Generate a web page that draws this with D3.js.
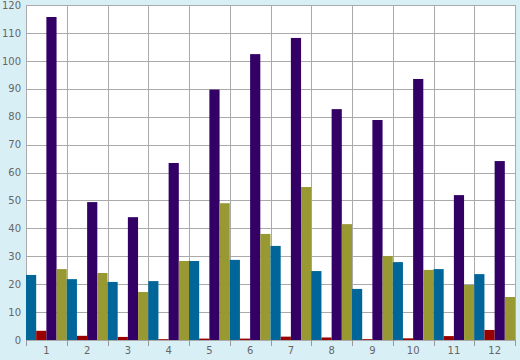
<!DOCTYPE html>
<html><head><meta charset="utf-8">
<script src="https://cdn.jsdelivr.net/npm/d3@7"></script>
<style>html,body{margin:0;padding:0;background:#d9eff6;}svg{display:block;}</style>
</head><body>
<svg id="c" width="520" height="360"></svg>
<script>
const categories = ["1","2","3","4","5","6","7","8","9","10","11","12"];
const seriesNames = ["A","B","C","D"];
const seriesA = [23.3, 21.8, 20.8, 21.1, 28.3, 28.7, 33.7, 24.7, 18.3, 27.9, 25.4, 23.6];
const seriesB = [3.3, 1.5, 1.1, 0.3, 0.5, 0.5, 1.2, 0.9, 0.3, 0.6, 1.4, 3.6];
const seriesC = [115.7, 49.4, 44.0, 63.4, 89.7, 102.4, 108.2, 82.7, 78.8, 93.5, 51.9, 64.1];
const seriesD = [25.4, 24.0, 17.2, 28.3, 49.0, 38.0, 54.8, 41.5, 30.1, 25.1, 19.7, 15.4];
const colors = ["#006699", "#990000", "#330066", "#999933"];
const yTicks = [0,10,20,30,40,50,60,70,80,90,100,110,120];

const svg = d3.select("#c");
const m = {l:26, t:5, r:5, b:20};
const W = 520, H = 360;
const x = d3.scaleBand().domain(categories).range([m.l, W - m.r]).padding(0);
const xs = d3.scaleBand().domain(seriesNames).range([0, x.bandwidth()]).padding(0);
const y = d3.scaleLinear().domain([0,120]).range([H - m.b, m.t]);

svg.append("rect").attr("x", m.l).attr("y", m.t).attr("width", W-m.r-m.l).attr("height", H-m.b-m.t).attr("fill","#fff");

// horizontal grid
svg.append("g").selectAll("line").data(yTicks).join("line")
  .attr("x1", m.l).attr("x2", W-m.r)
  .attr("y1", d=>Math.round(y(d))+0.5).attr("y2", d=>Math.round(y(d))+0.5)
  .attr("stroke","#aaaaaa").attr("stroke-width",1);
// vertical grid
const bounds = categories.map(c=>x(c)).concat([W-m.r]);
svg.append("g").selectAll("line").data(bounds).join("line")
  .attr("x1", d=>Math.round(d)+0.5).attr("x2", d=>Math.round(d)+0.5)
  .attr("y1", m.t).attr("y2", H-m.b)
  .attr("stroke","#aaaaaa").attr("stroke-width",1);

const data = [seriesA, seriesB, seriesC, seriesD];
const g = svg.append("g");
categories.forEach((c,i)=>{
  seriesNames.forEach((s,j)=>{
    const v = data[j][i];
    g.append("rect")
      .attr("x", x(c)+xs(s))
      .attr("width", xs.bandwidth())
      .attr("y", y(v))
      .attr("height", y(0)-y(v))
      .attr("fill", colors[j]);
  });
});

// x axis
const xAxis = d3.axisBottom(x).tickSize(0).tickPadding(7);
const gx = svg.append("g").attr("transform",`translate(0,${H-m.b})`).call(xAxis);
gx.select(".domain").remove();
gx.selectAll("text").attr("fill","#666").style("font-family","DejaVu Sans").style("font-size","10px");
gx.selectAll(".tk").data(bounds).join("line").attr("class","tk")
  .attr("x1", d=>Math.round(d)+0.5).attr("x2", d=>Math.round(d)+0.5)
  .attr("y1", 0).attr("y2", 6).attr("stroke","#999");

// y axis
const yAxis = d3.axisLeft(y).tickValues(yTicks).tickSize(0).tickPadding(5);
const gy = svg.append("g").attr("transform",`translate(${m.l},0)`).call(yAxis);
gy.select(".domain").remove();
gy.selectAll("text").attr("fill","#666").style("font-family","DejaVu Sans").style("font-size","10px");
</script>
</body></html>
